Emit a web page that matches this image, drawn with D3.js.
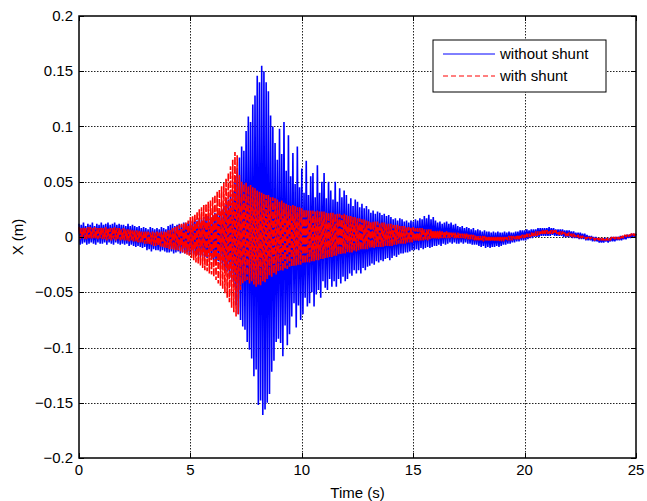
<!DOCTYPE html>
<html>
<head>
<meta charset="utf-8">
<script src="https://cdn.jsdelivr.net/npm/d3@7"></script>
<style>
  body { margin: 0; background: #fff; }
  text { font-family: "Liberation Sans", Arial, sans-serif; fill: #000; }
</style>
</head>
<body>
<div id="graph"></div>
<script>
"use strict"

// turning points of each response, in mm,
// one every 0.05 s from 0 to 25 s (each row is half a second)
var sampleStep = 0.05
var withoutShunt = [
  12,-7, 11,-6, 13,-5, 10,-7, 12,-6,
  11,-5, 13,-6, 10,-7, 12,-5, 11,-6,
  13,-6, 11,-5, 12,-7, 13,-5, 11,-6,
  12,-7, 13,-5, 11,-6, 12,-7, 11,-6,
  11,-7, 10,-6, 12,-8, 10,-7, 11,-8,
  10,-9, 9,-8, 10,-9, 8,-10, 9,-9,
  8,-12, 7,-11, 9,-13, 8,-11, 7,-12,
  8,-12, 7,-13, 9,-12, 8,-13, 7,-14,
  10,-14, 11,-13, 12,-15, 10,-14, 11,-13,
  12,-15, 11,-14, 13,-15, 12,-14, 13,-16,
  15,-15, 14,-16, 16,-17, 15,-16, 17,-18,
  16,-17, 18,-18, 17,-19, 19,-18, 18,-20,
  20,-21, 22,-23, 21,-22, 24,-25, 25,-26,
  28,-30, 30,-31, 34,-36, 38,-40, 42,-45,
  55,-62, 62,-70, 72,-75, 82,-81, 78,-84,
  96,-95, 109,-102, 104,-110, 120,-126, 128,-120,
  146,-152, 140,-148, 155,-161, 150,-156, 140,-150,
  132,-142, 110,-122, 100,-112, 85,-95, 70,-92,
  98,-96, 75,-108, 104,-80, 60,-98, 92,-88,
  55,-72, 76,-60, 48,-82, 82,-62, 45,-75,
  62,-70, 40,-55, 69,-63, 38,-60, 55,-50,
  58,-63, 36,-52, 65,-48, 40,-55, 50,-40,
  58,-46, 35,-48, 50,-38, 42,-45, 34,-40,
  50,-45, 32,-38, 44,-42, 36,-36, 42,-40,
  38,-38, 30,-33, 35,-35, 28,-30, 34,-33,
  32,-30, 27,-33, 30,-28, 26,-30, 28,-27,
  25,-26, 22,-24, 24,-25, 21,-22, 23,-23,
  22,-21, 20,-22, 21,-20, 19,-19, 20,-21,
  18,-19, 16,-17, 17,-18, 15,-16, 17,-15,
  16,-15, 14,-14, 15,-14, 13,-13, 15,-12,
  14,-12, 16,-11, 15,-12, 17,-10, 16,-11,
  19,-10, 17,-9, 20,-10, 16,-9, 18,-8,
  15,-8, 13,-7, 14,-8, 12,-6, 13,-7,
  14,-6, 12,-5, 13,-6, 11,-5, 12,-6,
  10,-6, 9,-5, 10,-6, 8,-5, 9,-6,
  8,-6, 7,-7, 8,-7, 6,-7, 7,-8,
  6,-9, 5,-8, 6,-10, 5,-9, 5,-10,
  4,-9, 5,-9, 4,-8, 5,-9, 4,-8,
  4,-7, 5,-7, 4,-6, 5,-6, 4,-5,
  4,-5, 5,-4, 5,-4, 6,-3, 6,-3,
  6,-3, 7,-2, 6,-1, 7,-1, 7,0,
  7,0, 8,0, 8,1, 8,1, 8,1,
  8,1, 9,1, 8,2, 8,1, 7,1,
  7,1, 7,1, 7,0, 6,0, 6,0,
  6,0, 5,-1, 5,-1, 4,-1, 4,-2,
  4,-2, 3,-2, 3,-3, 2,-3, 1,-3,
  1,-4, 0,-4, 0,-4, -1,-5, -1,-5,
  -1,-5, -1,-4, -1,-5, -1,-4, 0,-4,
  0,-4, 0,-3, 0,-3, 1,-3, 1,-2,
  1,-2, 2,-1, 2,-1, 3,0, 3,0,
  3
]
var withShunt = [
  9,-2, 8,-1, 9,-2, 8,-2, 9,-1,
  9,-2, 8,-1, 9,-2, 8,-2, 8,-1,
  9,-2, 8,-2, 9,-3, 8,-2, 8,-3,
  8,-2, 9,-3, 8,-2, 8,-3, 7,-3,
  8,-3, 7,-3, 7,-4, 7,-3, 6,-4,
  6,-4, 6,-5, 6,-5, 5,-5, 5,-6,
  5,-6, 5,-7, 4,-7, 5,-8, 4,-8,
  5,-8, 4,-9, 5,-9, 5,-10, 5,-10,
  6,-11, 7,-11, 8,-12, 9,-12, 10,-12,
  11,-13, 12,-14, 13,-15, 14,-16, 15,-17,
  18,-19, 19,-21, 21,-23, 23,-24, 25,-26,
  27,-28, 29,-30, 30,-31, 32,-33, 33,-34,
  36,-36, 38,-39, 41,-42, 43,-44, 46,-47,
  49,-51, 53,-55, 58,-59, 64,-64, 70,-68,
  77,-72, 74,-70, 56,-48, 50,-42, 48,-40,
  49,-39, 46,-42, 47,-40, 45,-43, 44,-45,
  42,-43, 41,-44, 40,-40, 39,-41, 38,-38,
  38,-35, 36,-36, 36,-33, 35,-34, 34,-31,
  32,-30, 33,-31, 31,-29, 30,-29, 29,-27,
  28,-27, 29,-26, 28,-26, 27,-25, 27,-25,
  26,-24, 25,-24, 25,-23, 24,-23, 24,-22,
  24,-22, 23,-21, 24,-21, 23,-20, 23,-20,
  23,-19, 22,-19, 22,-18, 22,-18, 22,-17,
  21,-17, 21,-16, 21,-16, 20,-15, 21,-15,
  20,-14, 19,-14, 19,-14, 18,-13, 18,-13,
  17,-12, 17,-12, 16,-11, 16,-11, 15,-11,
  15,-10, 14,-10, 14,-10, 14,-9, 14,-9,
  13,-9, 13,-9, 13,-8, 12,-8, 12,-8,
  12,-8, 11,-7, 11,-7, 11,-6, 10,-6,
  10,-6, 10,-6, 9,-5, 9,-5, 9,-5,
  9,-4, 8,-4, 8,-4, 8,-3, 8,-3,
  7,-3, 7,-3, 7,-2, 7,-2, 6,-2,
  6,-2, 6,-2, 6,-1, 5,-1, 5,-1,
  5,-1, 5,-1, 4,-1, 4,-1, 4,-1,
  4,-1, 3,-1, 3,-1, 3,-2, 3,-2,
  2,-2, 2,-2, 2,-3, 2,-3, 1,-3,
  1,-3, 1,-4, 1,-4, 0,-4, 0,-4,
  0,-4, 0,-4, 0,-4, 0,-4, 0,-4,
  0,-4, 0,-3, 0,-3, 1,-3, 1,-3,
  1,-2, 1,-2, 2,-2, 2,-1, 2,-1,
  2,-1, 3,0, 3,0, 4,1, 4,1,
  5,1, 5,2, 5,2, 6,2, 6,3,
  6,3, 6,3, 6,3, 6,3, 6,3,
  5,2, 5,2, 5,2, 4,1, 4,1,
  4,1, 3,0, 3,0, 2,0, 2,-1,
  1,-1, 1,-1, 0,-2, 0,-2, 0,-2,
  0,-2, -1,-3, -1,-3, -1,-3, -1,-3,
  -1,-3, -1,-3, -1,-3, -1,-3, 0,-2,
  0,-2, 0,-2, 0,-2, 1,-1, 1,-1,
  2,0, 2,0, 2,1, 3,1, 3,1,
  3
]
var xTicks = [0, 5, 10, 15, 20, 25]
var yTicks = [-0.2, -0.15, -0.1, -0.05, 0, 0.05, 0.1, 0.15, 0.2]
var seriesNames = ["without shunt", "with shunt"]

var width = 647, height = 501
var margin = {top: 16, left: 79, right: 11, bottom: 43}

main()

function main() {
  var svg = d3.select("#graph").append("svg")
      .attr("width", width).attr("height", height)

  var x = d3.scaleLinear().domain([0, 25]).range([margin.left, width - margin.right])
  var y = d3.scaleLinear().domain([-0.2, 0.2]).range([height - margin.bottom, margin.top])

  var x0 = x.range()[0], x1 = x.range()[1]
  var y0 = y.range()[1], y1 = y.range()[0]

  // grid
  var grid = svg.append("g").attr("stroke", "#222").attr("stroke-width", 1)
      .attr("stroke-dasharray", "1.5,1.5")
  grid.selectAll(".gx").data(xTicks.slice(1, -1)).enter().append("line")
      .attr("x1", d => Math.round(x(d)) + 0.5).attr("x2", d => Math.round(x(d)) + 0.5)
      .attr("y1", y0).attr("y2", y1)
  grid.selectAll(".gy").data(yTicks.slice(1, -1)).enter().append("line")
      .attr("y1", d => Math.round(y(d)) + 0.5).attr("y2", d => Math.round(y(d)) + 0.5)
      .attr("x1", x0).attr("x2", x1)

  var line = d3.line()
      .x((d, i) => x(i * sampleStep))
      .y(d => y(d / 1000))

  var plot = svg.append("g")
  plot.append("path").datum(withoutShunt)
      .attr("fill", "none").attr("stroke", "#0000ff").attr("stroke-width", 1.6)
      .attr("stroke-linejoin", "bevel")
      .attr("d", line)
  plot.append("path").datum(withShunt)
      .attr("fill", "none").attr("stroke", "#ff0000").attr("stroke-width", 1.6)
      .attr("stroke-linejoin", "bevel")
      .attr("stroke-dasharray", "7,2")
      .attr("d", line)

  // inward ticks on all four sides
  var ticks = svg.append("g").attr("stroke", "#000").attr("stroke-width", 1)
  xTicks.forEach(function(t) {
    var px = Math.round(x(t)) + 0.5
    ticks.append("line").attr("x1", px).attr("x2", px).attr("y1", y1).attr("y2", y1 - 5)
    ticks.append("line").attr("x1", px).attr("x2", px).attr("y1", y0).attr("y2", y0 + 5)
  })
  yTicks.forEach(function(t) {
    var py = Math.round(y(t)) + 0.5
    ticks.append("line").attr("y1", py).attr("y2", py).attr("x1", x0).attr("x2", x0 + 5)
    ticks.append("line").attr("y1", py).attr("y2", py).attr("x1", x1).attr("x2", x1 - 5)
  })

  svg.append("rect")
      .attr("x", x0).attr("y", y0).attr("width", x1 - x0).attr("height", y1 - y0)
      .attr("fill", "none").attr("stroke", "#000").attr("stroke-width", 1.5)

  // tick labels
  svg.selectAll(".xl").data(xTicks).enter().append("text")
      .attr("x", d => x(d)).attr("y", y1 + 17)
      .attr("text-anchor", "middle").style("font-size", "15px")
      .text(d => d3.format("")(d))
  svg.selectAll(".yl").data(yTicks).enter().append("text")
      .attr("x", x0 - 6).attr("y", d => y(d) + 5)
      .attr("text-anchor", "end").style("font-size", "15px")
      .text(d => d3.format("")(+d.toFixed(2)))

  svg.append("text").attr("x", (x0 + x1) / 2).attr("y", 498)
      .attr("text-anchor", "middle").style("font-size", "15px").text("Time (s)")
  svg.append("text").attr("transform", "translate(23," + ((y0 + y1) / 2) + ") rotate(-90)")
      .attr("text-anchor", "middle").style("font-size", "15px").text("X (m)")

  // legend
  var legend = svg.append("g").attr("transform", "translate(433,40)")
  legend.append("rect").attr("width", 173).attr("height", 52)
      .attr("fill", "#fff").attr("stroke", "#000").attr("stroke-width", 1)
  var styles = [{c: "#0000ff", dash: null}, {c: "#ff0000", dash: "5,3"}]
  seriesNames.forEach(function(name, i) {
    var ly = 14 + i * 22
    legend.append("line").attr("x1", 10).attr("x2", 62).attr("y1", ly).attr("y2", ly)
        .attr("stroke", styles[i].c).attr("stroke-width", 1)
        .attr("stroke-dasharray", styles[i].dash)
    legend.append("text").attr("x", 67).attr("y", ly + 5)
        .style("font-size", "15px").text(name)
  })
}
</script>
</body>
</html>
